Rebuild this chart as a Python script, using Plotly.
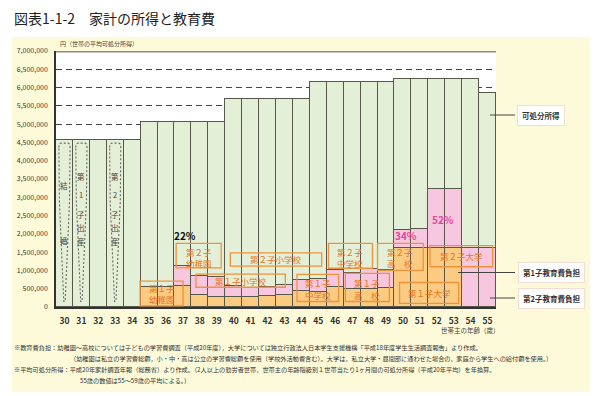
import plotly.graph_objects as go

FONT = "Noto Sans CJK JP"

# ---------------- data ----------------
ages = [30, 31, 32, 33, 34, 35, 36, 37, 38, 39, 40, 41, 42, 43, 44, 45, 46, 47, 48, 49, 50, 51, 52, 53, 54, 55]
income = [4580000, 4580000, 4580000, 4580000, 4580000,
          5060000, 5060000, 5060000, 5060000, 5060000,
          5680000, 5680000, 5680000, 5680000, 5680000,
          6150000, 6150000, 6150000, 6150000, 6150000,
          6230000, 6230000, 6230000, 6230000, 6230000,
          5860000]
child1_edu = [0, 0, 0, 0, 0,
              550000, 550000, 580000, 330000, 260000,
              270000, 270000, 290000, 340000, 450000,
              420000, 560000, 500000, 480000, 520000,
              1620000, 1620000, 1620000, 1620000, 0,
              0]
child2_edu = [0, 0, 0, 0, 0,
              0, 0, 550000, 520000, 550000,
              310000, 260000, 270000, 270000, 290000,
              340000, 450000, 420000, 560000, 500000,
              480000, 520000, 1620000, 1620000, 1620000,
              1620000]
y_ticks = [0, 500000, 1000000, 1500000, 2000000, 2500000, 3000000, 3500000,
           4000000, 4500000, 5000000, 5500000, 6000000, 6500000, 7000000]
y_ticktext = ["0", "500,000", "1,000,000", "1,500,000", "2,000,000", "2,500,000",
              "3,000,000", "3,500,000", "4,000,000", "4,500,000", "5,000,000",
              "5,500,000", "6,000,000", "6,500,000", "7,000,000"]
pct_ages = [37, 50, 52]

rest = [inc - a - b for inc, a, b in zip(income, child1_edu, child2_edu)]

# ---------------- styles ----------------
GREEN = "#e3efd6"
PINK = "#f7c6df"
ORANGE = "#fbcb82"
EDGE = "#57574a"
LABEL_OR = "#ea7421"

fig = go.Figure()
for vals, col in [(child1_edu, ORANGE), (child2_edu, PINK), (rest, GREEN)]:
    fig.add_trace(go.Bar(
        x=ages, y=[v if v > 0 else None for v in vals], width=1,
        marker=dict(color=col, line=dict(color=EDGE, width=1.2)),
        hoverinfo="skip", showlegend=False))

shapes = []
# figure backgrounds (yellow panel, white plot area)
shapes.append(dict(type="rect", xref="paper", yref="paper", x0=-0.1, x1=1.2136,
                   y0=-0.332, y1=1.0547, fillcolor="#fdfad9", line=dict(width=0), layer="below"))
shapes.append(dict(type="rect", xref="paper", yref="paper", x0=0, x1=1, y0=0, y1=1,
                   fillcolor="white", line=dict(width=0), layer="below"))
# top frame line
shapes.append(dict(type="line", xref="paper", yref="y", x0=0, x1=1, y0=7000000, y1=7000000,
                   line=dict(color="#8c8c82", width=3)))

# dotted spindles for life events
for a in [30, 31, 33]:
    top = 4480000
    p = (f"M {a-0.33},{top-120000} Q {a-0.33},{top} {a-0.2},{top} L {a+0.2},{top} "
         f"Q {a+0.33},{top} {a+0.33},{top-120000} L {a+0.3},2900000 L {a+0.04},150000 "
         f"L {a-0.04},150000 L {a-0.3},2900000 Z")
    shapes.append(dict(type="path", xref="x", yref="y", path=p,
                       line=dict(color="#6a6a60", width=1.1, dash="2px,2px")))

# orange label boxes: (x0, x1, y0, y1, lines, line_y)
boxes = [
    (34.47, 37.01, 30000, 710000, ["第１子", "幼稚園"], [530000, 230000]),
    (36.60, 39.26, 1070000, 1740000, ["第２子", "幼稚園"], [1510000, 1210000]),
    (37.77, 43.05, 540000, 900000, ["第１子小学校"], [720000]),
    (39.80, 45.20, 1120000, 1480000, ["第２子小学校"], [1300000]),
    (43.74, 46.20, 150000, 890000, ["第１子", "中学校"], [670000, 330000]),
    (45.60, 48.20, 1060000, 1740000, ["第２子", "中学校"], [1500000, 1200000]),
    (46.60, 49.20, 150000, 920000, ["第１子", "高　校"], [670000, 330000]),
    (48.50, 51.20, 1000000, 1740000, ["第２子", "高　校"], [1500000, 1200000]),
    (49.80, 53.30, 100000, 670000, ["第１子大学"], [390000]),
    (51.60, 55.30, 1100000, 1680000, ["第２子大学"], [1390000]),
]
annotations = []
for x0, x1, y0, y1, lines, ly in boxes:
    shapes.append(dict(type="rect", xref="x", yref="y", x0=x0, x1=x1, y0=y0, y1=y1,
                       line=dict(color="#f0923c", width=1.3)))
    for t, yy in zip(lines, ly):
        annotations.append(dict(x=(x0 + x1) / 2, y=yy, xref="x", yref="y", text=t,
                                xanchor="center", yanchor="middle",
                                showarrow=False, font=dict(family=FONT, size=8.5, color=LABEL_OR)))

# vertical event texts
events = [
    (30, [("結", 3320000), ("婚", 1810000)]),
    (31, [("第", 3560000), ("1", 3070000), ("子", 2520000), ("出", 2170000), ("産", 1800000)]),
    (33, [("第", 3560000), ("2", 3070000), ("子", 2520000), ("出", 2170000), ("産", 1800000)]),
]
for a, chars in events:
    for c, yy in chars:
        annotations.append(dict(x=a, y=yy, xref="x", yref="y", text=c, showarrow=False,
                                xanchor="center", yanchor="middle",
                                font=dict(family=FONT, size=7.5, color="#444")))

# percentages
pct_pos = {37: (37.1, 1960000, "#111"), 50: (50.2, 1950000, "#e8479c"), 52: (52.38, 2380000, "#e8479c")}
for a in pct_ages:
    i = ages.index(a)
    pct = round(100 * (child1_edu[i] + child2_edu[i]) / income[i])
    px, py, col = pct_pos[a]
    annotations.append(dict(x=px, y=py, xref="x", yref="y", text=f"<b>{pct}%</b>", showarrow=False,
                            xanchor="center", yanchor="middle",
                            font=dict(family=FONT, size=10, color=col)))

# right side labels with leader lines
def xp(px):
    return (px - 56) / 440

def yp(py):
    return (307 - py) / 256

legend_items = [("可処分所得", 490, 541, 115), ("第1子教育費負担", 458, 551.5, 272.5),
                ("第2子教育費負担", 490, 551.5, 298)]
for text, lx, cx, cy in legend_items:
    shapes.append(dict(type="line", xref="paper", yref="paper", x0=xp(lx), x1=xp(515),
                       y0=yp(cy), y1=yp(cy), line=dict(color="#444", width=1)))
    annotations.append(dict(x=xp(cx), y=yp(cy), xref="paper", yref="paper", text=f"<b>{text}</b>",
                            xanchor="center", yanchor="middle",
                            showarrow=False, bgcolor="white", bordercolor="#f3ddd3", borderwidth=1,
                            borderpad=4, font=dict(family=FONT, size=7.5, color="#333")))

# titles and notes
annotations.append(dict(x=xp(12), y=yp(18), xref="paper", yref="paper", xanchor="left", yanchor="middle",
                        text="図表1-1-2　家計の所得と教育費", showarrow=False,
                        font=dict(family=FONT, size=14, color="#222")))
annotations.append(dict(x=xp(58), y=yp(43), xref="paper", yref="paper", xanchor="left", yanchor="middle",
                        text="円（世帯の平均可処分所得）", showarrow=False,
                        font=dict(family=FONT, size=6, color="#444")))
annotations.append(dict(x=xp(470), y=yp(330), xref="paper", yref="paper", xanchor="center", yanchor="middle",
                        text="世帯主の年齢（歳）", showarrow=False,
                        font=dict(family=FONT, size=6.5, color="#444")))
notes = [
    (12, 347, "※教育費負担：幼稚園～高校については子どもの学習費調査（平成20年度），大学については独立行政法人日本学生支援機構「平成18年度学生生活調査報告」より作成。"),
    (68, 358, "（幼稚園は私立の学習費総額，小・中・高は公立の学習費総額を使用（学校外活動費含む）。大学は，私立大学・昼間部に通わせた場合の，家庭から学生への給付額を使用。）"),
    (12, 369, "※平均可処分所得：平成20年家計調査年報（総務省）より作成。（2人以上の勤労者世帯，世帯主の年齢階級別１世帯当たり1ヶ月間の可処分所得（平成20年平均）を年換算。"),
    (78, 380, "55歳の数値は55～59歳の平均による。）"),
]
for x, y, t in notes:
    annotations.append(dict(x=xp(x), y=yp(y), xref="paper", yref="paper", xanchor="left", yanchor="middle",
                            text=t, showarrow=False, font=dict(family=FONT, size=6.2, color="#333")))

fig.update_layout(
    width=600, height=396,
    margin=dict(l=56, r=104, t=51, b=89),
    paper_bgcolor="white", plot_bgcolor="white",
    barmode="stack", bargap=0,
    shapes=shapes, annotations=annotations,
    font=dict(family=FONT),
    xaxis=dict(range=[29.5, 55.5], tickvals=ages, ticktext=[str(a) for a in ages],
               showgrid=False, zeroline=False, showline=True, linecolor="#333", linewidth=1.5,
               ticks="", ticklabelstandoff=5,
               tickfont=dict(family=FONT, size=8.5, color="#333", weight="bold"), fixedrange=True),
    yaxis=dict(range=[0, 7000000], tickvals=y_ticks, ticktext=y_ticktext,
               showgrid=True, gridcolor="#444", gridwidth=1, griddash="6px,4px",
               zeroline=False, showline=True, linecolor="#333", linewidth=1.5,
               ticks="", ticklabelstandoff=5,
               tickfont=dict(family=FONT, size=7, color="#333"), fixedrange=True),
)

fig.write_html("out.html", config={"displayModeBar": False},
               post_script="document.body.style.margin='0';")
